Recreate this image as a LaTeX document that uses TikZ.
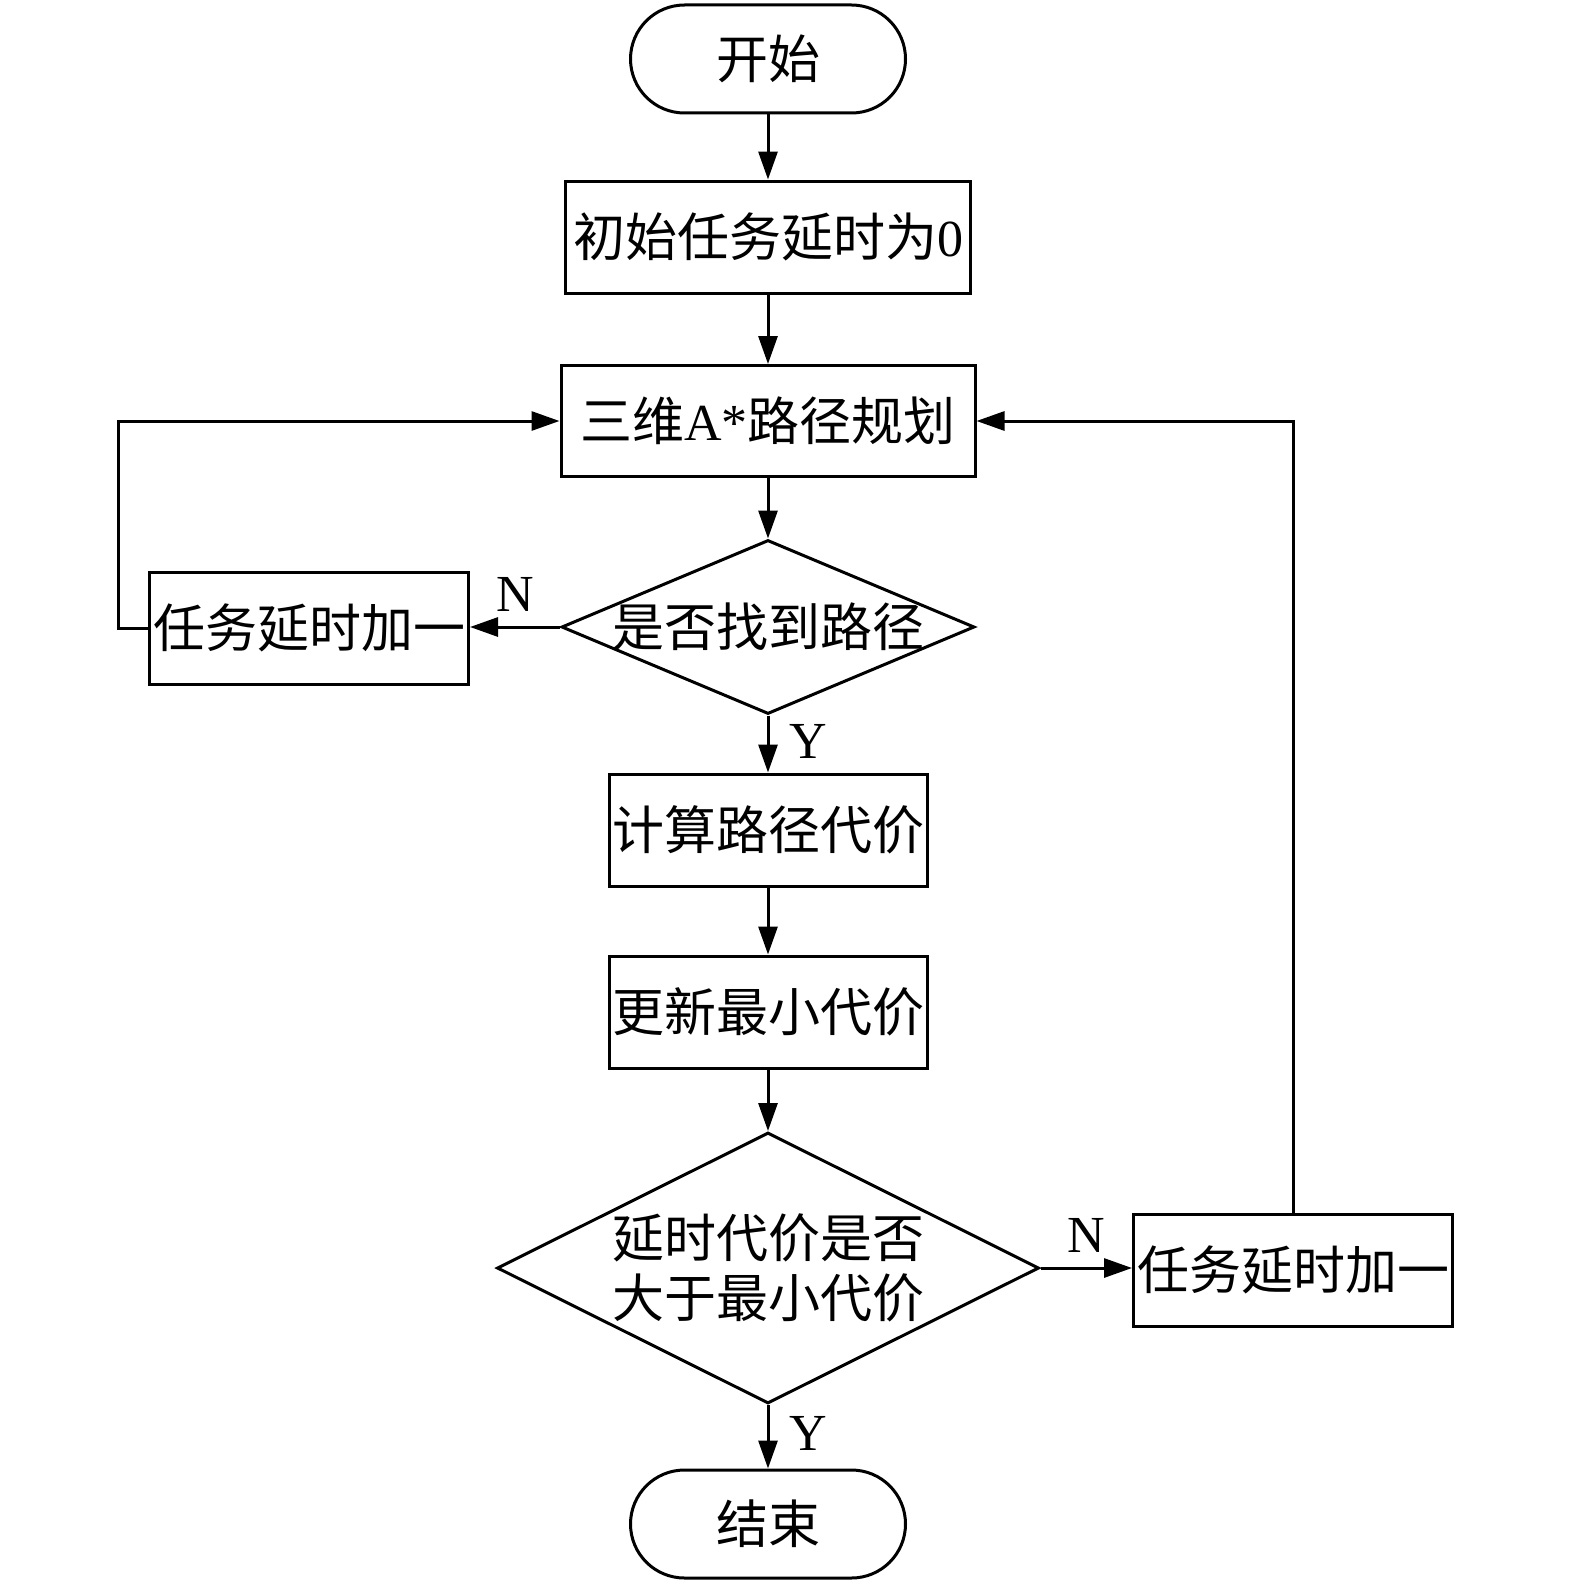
\documentclass[tikz,border=0pt]{standalone}
\usepackage{fontspec}
\setmainfont{Liberation Serif}
\newfontfamily\cjk{Noto Sans CJK SC}
\usetikzlibrary{shapes.geometric,arrows.meta}
\begin{document}
\begin{tikzpicture}[x=1pt,y=-1pt,
  every node/.style={font=\fontsize{52}{60}\selectfont, inner sep=0pt},
  proc/.style={draw, line width=3pt, rectangle, minimum width=#1, minimum height=112pt},
  term/.style={draw, line width=3pt, rectangle, rounded corners=54pt, minimum width=275pt, minimum height=108pt},
  decide/.style={draw, line width=3pt, diamond, aspect=2},
  dtext/.style={align=center, font=\fontsize{52}{60}\selectfont\cjk},
  arr/.style={line width=3pt, -{Triangle[length=28pt,width=19pt]}},
  lab/.style={font=\fontsize{52}{60}\selectfont}]
\useasboundingbox (0,0) rectangle (1575,1584);
\node[term] (start) at (768,59) {\cjk 开始};
\node[proc=405pt] (b1) at (768,237) {{\cjk 初始任务延时为}0};
\node[proc=414pt, minimum height=111pt] (b2) at (768,421) {{\cjk 三维}A*{\cjk 路径规划}};
\node[decide, minimum width=413pt, minimum height=174pt,
  label={[dtext]center:是否找到路径}] (d1) at (768,627) {};
\node[proc=319pt] (lb) at (309,628) {\cjk 任务延时加一};
\node[proc=318pt] (b3) at (768,830) {\cjk 计算路径代价};
\node[proc=318pt] (b4) at (768,1012) {\cjk 更新最小代价};
\node[decide, minimum width=542pt, minimum height=271pt,
  label={[dtext]center:延时代价是否\\大于最小代价}] (d2) at (768,1268) {};
\node[proc=319pt] (rb) at (1293,1270) {\cjk 任务延时加一};
\node[term] (end) at (768,1524) {\cjk 结束};
\node[lab] (n1) at (515,594) {N};
\node[lab] (y1) at (808,741) {Y};
\node[lab] (n2) at (1086,1235) {N};
\node[lab] (y2) at (808,1433) {Y};
\draw[arr] (start) -- (b1);
\draw[arr] (b1) -- (b2);
\draw[arr] (b2) -- (d1);
\draw[arr] (d1.west) -- (lb.east |- d1.west);
\draw[arr] (lb.west) -- ++(-30,0) |- (b2.west);
\draw[arr] (d1.south) -- (b3.north);
\draw[arr] (b3) -- (b4);
\draw[arr] (b4.south) -- (d2.north);
\draw[arr] (d2.east) -- (rb.west |- d2.east);
\draw[arr] (rb.north) |- (b2.east);
\draw[arr] (d2.south) -- (end.north);
\end{tikzpicture}
\end{document}
